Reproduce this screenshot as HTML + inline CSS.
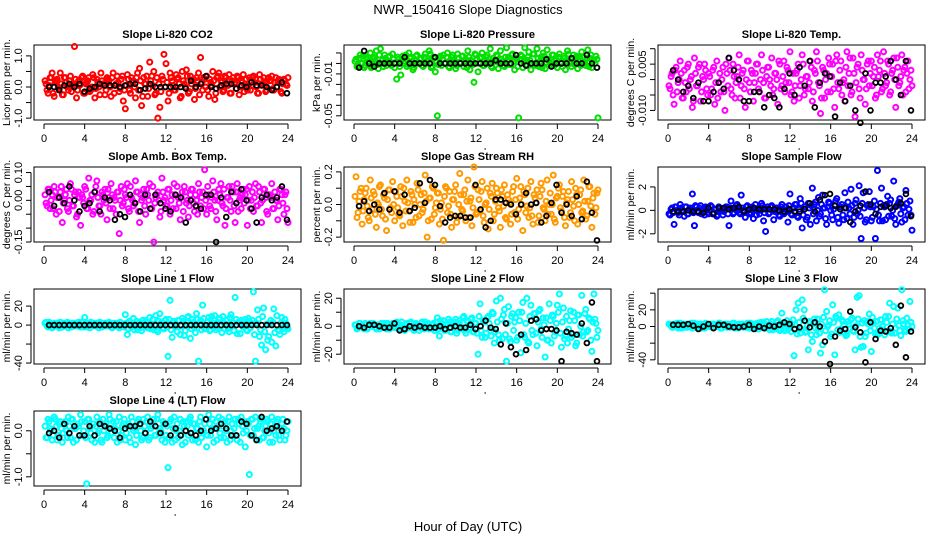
<!DOCTYPE html>
<html><head><meta charset="utf-8">
<style>
html,body{margin:0;padding:0;background:#fff;}
svg{display:block;font-family:"Liberation Sans",Arial,sans-serif;}
</style></head>
<body>
<svg id="chart" width="936" height="540" viewBox="0 0 936 540">
<text x="468" y="14" text-anchor="middle" font-size="13">NWR_150416  Slope Diagnostics</text>
<text x="468" y="531" text-anchor="middle" font-size="13">Hour of Day (UTC)</text>
</svg>
<script>
// ---- data (colored series: 120 samples each; core series: 120 samples; black series: 48 samples) ----
const co2Color=[0.1,-0.2,0.3,0.45,-0.3,0.2,0.0,0.45,-0.25,0.3,0.15,-0.1,0.35,0.05,1.3,-0.35,0.2,0.1,0.35,-0.2,
0.15,0.3,-0.1,0.4,-0.35,0.25,0.0,0.45,0.1,-0.25,0.3,0.2,-0.3,0.45,0.05,0.35,-0.15,0.25,-0.45,-0.7,
0.4,-0.1,0.3,0.2,-0.35,0.45,0.6,-0.6,0.3,0.1,-0.3,0.8,0.35,0.5,-0.2,-1.0,-0.65,0.35,1.05,0.75,
-0.45,0.45,0.2,-0.1,0.4,0.3,-0.35,0.5,0.1,0.55,-0.2,0.35,0.2,-0.4,0.3,0.45,0.95,-0.1,0.25,0.35,
-0.3,0.15,0.5,-0.4,0.3,0.45,0.2,-0.15,0.35,0.1,0.4,-0.2,0.3,0.15,0.35,-0.25,0.2,0.4,0.1,-0.1,
0.3,0.05,0.35,0.25,-0.2,0.4,0.1,0.3,-0.15,0.25,0.2,0.35,-0.1,0.3,0.15,0.2,-0.2,0.25,0.1,0.3];
const co2Core=[0.2,-0.1,0.05,0.3,-0.2,0.15,0.25,-0.05,0.1,-0.25,0.3,0.0,0.2,-0.15,0.1,0.25,-0.1,0.05,0.3,-0.2,
0.1,0.2,-0.15,0.0,0.3,-0.05,0.15,-0.25,0.2,0.05,-0.1,0.25,0.0,0.3,-0.2,0.1,0.15,-0.05,0.35,-0.1,
0.05,0.25,-0.2,0.15,0.0,0.3,-0.1,0.2,-0.3,0.1,0.35,-0.05,0.2,0.05,-0.25,0.3,0.1,-0.15,0.25,0.0,
0.15,-0.2,0.3,0.05,-0.1,0.25,0.1,-0.3,0.2,0.0,0.35,-0.15,0.1,0.25,-0.05,0.2,-0.25,0.15,0.3,0.0,
-0.1,0.25,0.05,0.2,-0.2,0.35,0.0,0.15,-0.1,0.3,0.05,-0.2,0.2,0.1,-0.05,0.3,0.0,0.15,-0.15,0.25,
0.05,-0.1,0.3,0.15,0.0,-0.2,0.25,0.1,0.05,-0.1,0.3,0.2,-0.05,0.15,0.0,0.25,-0.15,0.1,0.2,0.05];
const co2Black=[0.0,0.0,-0.1,0.05,0.1,0.0,0.1,-0.15,-0.05,0.0,0.1,0.05,0.05,0.05,0.0,0.05,0.1,0.1,-0.1,-0.05,0.1,0.0,0.0,0.0,0.0,0.0,0.0,-0.05,0.2,0.0,0.1,0.35,0.0,-0.05,0.05,0.1,0.1,-0.05,0.05,0.0,0.15,0.05,0.05,0.0,-0.1,0.0,0.15,-0.2];
const pressColorMilli=[4,-2,8,0,-4,6,2,10,-3,5,12,-5,14,3,8,-2,6,1,9,-4,
-15,4,-11,7,2,-3,10,6,-6,3,8,0,5,-3,9,2,12,-4,6,-8,
-50,5,-2,8,0,10,-4,6,3,-5,9,1,7,-3,4,12,-6,2,-18,8,
-8,5,10,-2,6,0,14,-4,3,8,-5,12,2,-3,15,6,-1,9,-6,4,
-52,8,-4,15,3,11,-6,9,0,14,-3,6,10,-5,13,2,-2,8,5,-4,
9,0,7,-6,12,2,-3,8,4,-5,6,11,0,-2,13,5,-4,3,7,-52];
const pressCoreMilli=[2,-3,5,0,7,-2,4,1,-4,6,3,-1,8,0,-3,5,2,7,-2,4,
1,6,-3,3,0,8,-1,5,2,-4,7,1,4,-2,6,0,3,9,-3,5,
2,-1,7,4,0,6,-3,3,8,1,-2,5,0,7,2,-4,6,3,-1,9,
4,0,6,-2,3,8,1,-3,5,2,7,0,4,-2,6,3,-1,8,2,5,
-3,4,7,1,-1,6,3,0,9,-2,5,2,-4,7,1,4,0,8,-2,3,
6,1,-3,5,2,9,0,4,-1,7,3,-2,6,1,5,-3,8,2,0,4];
const pressBlackMilli=[-4,12,0,-3,0,0,0,0,0,6,0,0,0,0,0,6,0,0,0,0,0,0,0,0,0,0,0,3,0,0,0,8,0,-2,0,0,0,4,-3,0,0,0,5,0,0,8,0,-4];
const tempColorMilli=[-3,2,-8,4,-1,6,-6,3,-4,5,0,-9,7,-2,4,-7,1,5,-3,2,
-5,3,-8,6,-1,-4,4,-10,2,7,-3,5,-6,1,8,-2,3,-9,6,-1,
3,-7,2,5,-4,8,-1,-6,4,0,7,-3,2,-8,5,-2,6,-1,3,9,
-4,-7,2,5,-2,8,-5,1,-3,6,-7,3,9,-1,-11,4,-6,2,7,-4,
5,-9,8,-3,6,-1,-7,9,2,-5,7,-12,4,-3,8,0,-8,5,-2,6,
1,-6,8,3,-4,9,-2,6,-5,2,7,-9,4,-1,8,3,-4,6,0,-2];
const tempCoreMilli=[-2,1,-5,3,-4,0,2,-6,-1,4,-3,1,-7,2,-2,5,-4,0,3,-5,
1,-3,4,-1,-6,2,0,-4,5,-2,3,-5,1,-1,4,-6,2,-3,0,6,
-4,2,-1,5,-3,0,3,-6,1,4,-2,-5,2,0,6,-3,1,-4,4,-1,
-5,2,-2,3,-6,0,5,-3,1,-1,4,-4,2,6,-2,-6,3,0,-4,5,
1,-3,6,-1,3,-5,0,4,-2,7,-4,2,-1,5,-6,3,0,-3,6,2,
-2,4,-5,1,6,-3,2,-1,5,-4,3,0,7,-2,1,-5,4,2,-3,3];
const tempBlackMilli=[3,0,-4,-2,-6,-1,-7,-7,-4,-1,-3,7,3,0,-7,-7,-4,-4,-9,-5,-6,-9,-3,2,-5,4,-2,6,-9,-1,2,1,-12,-1,-7,-2,-10,-14,2,-10,-1,-1,1,6,0,-5,6,-10];
const ambColorCenti=[-1,4,-3,2,5,-5,1,3,-8,0,4,-4,6,-2,2,-6,3,-9,1,5,
-3,8,0,-5,3,7,-2,-5,2,4,-7,1,6,-3,0,3,-12,5,-1,2,
6,-4,1,-2,7,3,-8,0,4,-5,2,6,-3,-15,1,3,-6,8,0,-2,
4,-5,2,6,-3,1,-7,3,5,-1,-6,2,4,-4,0,6,-2,3,11,-5,
2,-3,7,0,-7,4,6,-2,-9,1,5,-4,3,-8,6,0,-3,4,2,-9,
5,0,-4,6,-2,3,-8,4,1,-5,2,6,-3,0,-7,4,2,-5,3,-8];
const ambCoreCenti=[2,-2,4,0,-3,3,1,-4,5,-1,2,-3,0,4,-2,3,-5,1,2,-1,
4,-3,0,2,-4,5,1,-2,3,0,-1,4,-3,2,1,-5,3,0,-2,4,
1,-3,5,0,-1,3,-4,2,1,-2,4,0,-3,5,-1,2,0,-4,3,1,
-2,4,0,-3,2,5,-1,1,-4,3,0,-2,4,-1,2,-5,3,1,-3,0,
5,-2,1,3,-4,0,2,-1,4,-3,1,0,5,-2,3,-4,1,2,-1,4,
0,-3,3,1,-2,5,-1,0,4,-4,2,1,-3,3,0,-2,4,-1,2,-3];
const ambBlackCenti=[3,-2,1,-1,5,0,-4,-2,-1,3,-4,1,0,-7,-5,-6,2,-1,-4,2,-3,2,-1,-3,-4,2,1,-8,0,-2,-3,2,2,-15,1,-6,3,-1,4,0,-3,-8,1,2,0,1,5,-7];
const rhColorCenti=[17,-5,8,-12,3,10,-8,15,-3,6,-14,0,12,-7,4,-16,9,-2,14,-10,
5,-6,11,-13,2,15,-4,8,-11,0,13,-7,6,-3,18,-20,4,-9,10,-2,
7,-12,1,-22,11,-5,8,-14,3,12,-8,19,-3,6,-10,15,2,-13,23,-6,
9,-4,14,-11,1,-15,7,13,-6,10,-2,-14,5,12,-9,3,-12,8,-5,16,
-3,11,-16,6,-1,-8,14,-12,4,9,-7,13,-2,-10,15,0,-6,18,-11,5,
12,-4,8,-13,3,-8,14,-1,10,-12,6,-5,15,-9,2,11,-14,7,-2,9];
const rhCoreCenti=[5,-8,2,10,-4,7,-1,-10,4,8,-6,1,11,-3,6,-9,3,9,-5,0,
8,-2,-7,5,10,-4,1,-11,6,3,-8,9,0,-5,7,2,-10,4,11,-6,
1,7,-3,-9,5,10,-1,-6,3,8,-11,0,6,-4,9,2,-8,4,-2,11,
-5,3,8,-7,0,10,-3,5,-10,2,7,-4,9,-1,-8,6,1,-6,11,3,
-9,4,0,8,-5,10,-2,-7,6,1,-11,5,9,-3,2,-6,7,0,-9,4,
10,-2,5,-8,1,8,-5,3,-10,6,0,9,-4,2,-7,11,-1,4,-6,7];
const rhBlackCenti=[-1,2,-4,0,-3,7,-3,8,-5,6,-4,-2,13,1,15,12,-1,-11,-8,-7,-7,-8,-8,12,-3,-14,-10,3,3,1,0,-6,0,7,0,1,-11,-7,1,12,-5,0,-7,5,-9,14,-5,-22];
const sampleColor=[-0.4,0.2,-1.2,0.3,-0.2,0.5,0,-0.5,0.3,-0.3,0.2,1.4,-1.3,0.3,-0.2,0.4,0,-0.4,0.2,-0.3,
0.4,-0.3,0.1,-0.5,0.3,0,-0.4,0.2,0.3,-1.3,0.8,-0.3,0.2,0.5,-0.2,1.3,0,-0.6,0.4,-0.3,
0.2,-0.7,0.5,0,-0.3,0.6,-0.9,-1.8,0.3,-0.2,0.4,-0.8,0.2,0,-0.5,0.5,-0.3,0.3,-1.0,1.4,
-0.4,0.2,0.5,-0.6,1.0,-1.5,0.3,-0.8,0.6,-1.2,1.9,0.5,-0.9,1.1,-0.3,1.3,0.2,-1.2,0.7,0.0,
-0.8,0.4,1.0,-1.1,0.3,-0.4,1.5,-0.7,0.2,1.8,-1.2,0.6,-0.3,2.1,-2.4,1.5,-1.0,0.4,1.6,-0.9,
0.3,-2.4,3.4,-0.9,1.9,0.4,-0.8,1.2,0.6,-0.5,2.5,-1.2,0.5,1.0,-1.0,0.3,1.7,-0.4,0.8,-1.7];
const sampleCore=[-0.3,0.1,-0.2,0.3,0.0,-0.4,0.2,-0.1,0.3,-0.3,0.1,0.0,-0.2,0.4,-0.1,0.2,-0.3,0.1,0.3,-0.2,
0.0,0.3,-0.2,0.1,-0.4,0.2,0.0,-0.1,0.3,-0.3,0.2,0.1,-0.2,0.4,0.0,-0.3,0.2,-0.1,0.3,0.0,
-0.2,0.3,0.1,-0.4,0.2,0.0,0.4,-0.2,0.1,-0.3,0.3,0.0,-0.1,0.2,-0.4,0.3,0.1,-0.2,0.0,0.4,
-0.3,0.2,0.5,-0.5,0.1,0.6,-0.4,0.3,-0.6,0.2,0.4,-0.3,0.7,0.0,-0.5,0.5,0.2,-0.7,0.3,0.6,
-0.4,0.1,0.8,-0.6,0.3,0.5,-0.8,0.2,0.7,-0.3,0.4,-0.6,0.9,0.0,-0.5,0.6,0.2,-0.8,0.5,0.3,
-0.6,0.8,0.1,-0.4,0.6,-0.9,0.3,0.5,-0.5,0.9,0.0,-0.7,0.4,0.7,-0.3,0.2,-0.8,0.6,0.1,-0.4];
const sampleBlack=[-0.1,-0.1,-0.1,0,-0.1,-0.1,-0.2,0.2,-0.3,0.2,0.2,0.1,0.2,0.3,-0.1,0.1,0.2,0.1,0.1,0.1,0.1,0,-0.1,0.1,-0.1,-0.1,0.1,0.6,-0.1,0.9,1.3,1.4,0.4,0.1,0.2,-1.0,-0.1,0.4,1.6,0.5,-0.3,0.3,0.4,0.2,0.3,0.6,1.4,-0.5];
const line1Color=[3,-2,1,-3,2,0,-1,3,-2,1,2,-3,0,2,-1,1,3,-2,0,8,
-2,1,3,-1,0,2,-3,1,-1,2,0,3,-2,1,-1,2,-3,0,1,11,
-10,4,-2,7,0,-5,3,-6,2,5,-3,8,1,-5,10,-7,12,2,-4,6,
-33,26,-13,4,-2,5,-10,7,-11,3,9,-14,6,-3,12,-38,5,21,-4,3,
8,-5,2,10,-3,6,-1,9,-4,5,-7,11,2,29,-9,3,5,-2,6,-6,
4,2,35,-38,16,-12,-21,18,-26,-16,1,-18,17,-22,-5,-10,8,-7,2,-4];
const line1Core=[2,-1,3,0,-2,1,2,-3,0,2,-1,3,1,-2,0,2,-1,1,3,-2,
0,2,-3,1,2,-1,0,3,-2,1,-1,2,0,-3,2,1,-1,3,0,-2,
2,-4,3,1,-5,4,0,-3,5,-2,3,1,-4,6,0,-5,4,2,-3,5,
-2,6,-5,3,1,-7,5,-1,4,-6,8,0,-4,3,-8,6,1,-5,7,-3,
4,-6,9,0,-5,3,7,-8,2,5,-4,8,-1,-6,6,3,-9,4,0,-5,
7,-3,5,-10,2,6,-5,9,-7,1,-12,5,3,-8,10,-6,2,-4,6,-2];
const line1Black=[0,0,0,0,0,0,0,0,0,0,0,0,0,0,0,0,0,0,0,0,0,0,0,0,0,0,0,0,0,0,0,0,0,0,0,0,0,0,0,0,0,0,0,0,0,0,0,0];
const line2Color=[1,-1,2,0,-2,1,-1,2,0,1,-2,1,0,-1,2,-2,1,0,2,-1,
3,-2,1,0,-3,2,-1,3,-2,0,1,-3,2,-1,3,0,-2,1,2,-3,
6,-7,2,4,-3,1,3,-4,2,5,-3,4,-2,7,-5,3,-1,6,-4,2,
-20,16,-8,3,-5,7,-3,10,-12,18,-6,20,-9,12,-25,14,-11,9,3,-10,
10,-19,17,-8,20,-12,15,-6,9,-14,11,-2,6,-22,-10,16,-12,7,-4,15,
23,-15,13,-7,-12,4,-8,10,-14,8,-6,22,-4,12,-3,5,-18,23,2,-3];
const line2Core=[1,-2,2,0,-1,2,-2,1,0,2,-1,1,-2,2,0,-1,2,-2,1,0,
2,-1,0,3,-2,1,-1,2,0,-3,2,1,-1,3,-2,0,2,-1,1,-3,
3,-2,4,0,-3,2,5,-4,1,3,-5,2,0,6,-3,4,-2,5,-4,2,
-5,7,-3,4,-8,6,2,-7,9,-4,3,-10,5,8,-6,2,-9,7,-3,6,
-8,4,10,-6,2,-11,7,-3,9,-5,3,12,-8,1,6,-10,4,8,-7,2,
10,-5,3,-9,7,-2,11,-6,4,-12,8,0,-7,9,-4,6,-10,3,5,-8];
const line2Black=[0,-1,1,1,0,-1,-1,2,-3,-2,0,-1,0,-1,-1,-1,0,-2,-1,0,-1,-1,1,-2,0,4,-1,-2,-13,2,-15,-20,-6,-17,4,5,-3,-2,-2,-3,-25,-4,-5,-6,2,-12,17,-25];
const line3Color=[2,-1,3,0,-2,4,1,-1,3,0,2,-2,4,1,-1,3,0,-2,2,1,
3,-1,2,0,4,-2,1,3,-1,2,0,4,-2,1,3,0,-1,2,4,-2,
3,0,-2,4,1,-1,5,-2,2,-4,6,0,-3,7,-5,16,-2,3,-4,5,
2,-35,20,28,-8,32,20,-6,-28,5,-18,9,-10,-2,-32,-22,44,18,2,-12,
26,-34,10,14,-3,6,-8,-10,3,8,-5,-28,35,37,-25,-24,-12,6,15,-30,
5,-9,-10,-2,8,-4,12,-6,28,-8,24,-2,22,-5,44,3,-6,2,30,0];
const line3Core=[3,1,-1,2,4,0,-2,3,1,-1,2,4,0,-1,3,2,-2,1,4,0,
2,-1,3,1,0,4,-2,2,1,3,-1,0,4,2,-2,1,3,0,-1,2,
4,-2,3,1,-3,5,0,-2,6,-1,3,-4,2,5,-3,1,4,-5,7,0,
-6,8,2,-9,5,-3,10,-7,1,6,-10,4,-2,9,-8,3,11,-5,0,7,
-9,5,12,-4,-7,8,2,-11,6,-3,10,-6,1,9,-12,4,7,-8,3,-5,
11,-2,6,-9,8,0,-10,5,12,-6,3,-8,9,1,-11,7,-4,10,-3,5];
const line3Black=[2,2,2,3,1,-3,0,3,-2,2,2,0,-1,-1,0,2,-3,0,-2,1,0,2,5,3,-3,-1,7,-1,5,0,-18,-45,-12,-5,-3,18,-1,-7,-43,5,-15,-5,-6,-2,-22,25,-37,-6];
const line4Color=[-0.15,0.25,0.05,-0.2,0.3,0.1,-0.1,0.2,-0.25,0.15,0.0,0.3,-0.15,0.25,0.05,-0.2,0.1,0.35,-0.1,0.2,
-1.15,0.25,-0.05,0.15,-0.25,0.3,0.0,-0.2,0.25,0.1,-0.15,0.35,-0.05,0.2,0.05,-0.25,0.3,-0.1,0.15,-0.2,
0.1,-0.15,0.3,0.0,-0.3,0.2,0.15,-0.2,0.25,-0.05,0.3,-0.15,0.1,0.25,-0.1,0.35,0.05,-0.2,0.15,-0.1,
-0.8,0.2,-0.25,0.3,0.0,-0.15,0.25,-0.3,0.1,0.2,-0.1,0.3,-0.2,0.15,0.05,-0.25,0.3,-0.05,0.15,-0.35,
0.35,-0.1,0.25,0.05,-0.2,0.3,-0.15,0.1,0.2,-0.25,0.3,0.0,-0.1,0.25,-0.2,0.15,0.3,-0.05,-0.35,0.2,
-0.95,0.25,-0.1,0.3,0.05,-0.2,0.25,-0.15,0.1,0.2,-0.25,0.3,0.0,-0.1,0.25,-0.2,0.15,0.05,-0.1,0.2];
const line4Core=[0.1,-0.15,0.2,0.0,-0.1,0.25,-0.2,0.15,0.05,-0.05,0.2,-0.15,0.1,0.25,-0.25,0.05,0.15,-0.1,0.2,0.0,
-0.15,0.25,0.05,-0.2,0.15,0.1,-0.05,0.2,-0.25,0.0,0.15,-0.1,0.25,0.05,-0.15,0.2,0.0,-0.2,0.1,0.25,
-0.05,0.15,-0.25,0.2,0.05,-0.1,0.25,0.0,-0.15,0.1,0.2,-0.2,0.05,0.15,-0.1,0.25,-0.05,0.0,0.2,-0.25,
0.1,-0.15,0.25,0.05,-0.2,0.15,0.0,-0.1,0.2,-0.25,0.1,0.25,-0.05,0.15,-0.2,0.05,0.2,-0.15,0.0,0.25,
-0.1,0.15,0.05,-0.25,0.2,0.1,-0.05,0.25,-0.15,0.0,0.2,-0.2,0.15,0.05,-0.1,0.25,-0.25,0.1,0.2,0.0,
0.15,-0.1,0.25,0.05,-0.2,0.1,0.2,-0.15,0.0,0.25,-0.05,0.15,-0.25,0.1,0.2,-0.1,0.05,0.25,-0.2,0.0];
const line4Black=[-0.05,0.0,-0.15,0.15,-0.05,0.1,-0.1,-0.1,0.1,-0.1,0.15,0.1,0.05,0.0,-0.15,0.05,0.1,0.1,0.15,-0.05,0.2,0.1,-0.05,0.15,-0.1,0.05,-0.1,0.0,-0.05,-0.1,0.0,0.25,0.0,0.05,0.15,0.05,-0.1,-0.1,0.2,0.15,-0.1,-0.2,0.3,0.0,0.05,0.1,0.0,0.2];
const xTicks=[0,4,8,12,16,20,24];

const panels=[
 {name:'co2',title:'Slope Li-820 CO2',ylab:'Licor ppm per min.',col:0,row:0,color:'#ff0000',ymin:-1.06,ymax:1.35,ticks:[-1,-0.5,0,0.5,1],labels:['-1.0','','0.0','','1.0'],c:co2Color,k:co2Core,b:co2Black},
 {name:'pressure',title:'Slope Li-820 Pressure',ylab:'kPa per min.',col:1,row:0,color:'#00e000',ymin:-54,ymax:17.6,ticks:[-50,-40,-30,-20,-10,0,10],labels:['-0.05','','','','-0.01','',''],c:pressColorMilli,k:pressCoreMilli,b:pressBlackMilli},
 {name:'li820-temp',title:'Slope Li-820 Temp.',ylab:'degrees C per min.',col:2,row:0,color:'#ff00ff',ymin:-13.1,ymax:11.2,ticks:[-10,-5,0,5,10],labels:['-0.010','','','0.005',''],c:tempColorMilli,k:tempCoreMilli,b:tempBlackMilli},
 {name:'amb-box-temp',title:'Slope Amb. Box Temp.',ylab:'degrees C per min.',col:0,row:1,color:'#ff00ff',ymin:-15,ymax:12,ticks:[-15,-10,-5,0,5,10],labels:['-0.15','','','0.00','','0.10'],c:ambColorCenti,k:ambCoreCenti,b:ambBlackCenti},
 {name:'gas-stream-rh',title:'Slope Gas Stream RH',ylab:'percent per min.',col:1,row:1,color:'#ff9900',ymin:-23,ymax:23,ticks:[-20,-10,0,10,20],labels:['-0.2','','0.0','','0.2'],c:rhColorCenti,k:rhCoreCenti,b:rhBlackCenti},
 {name:'sample-flow',title:'Slope Sample Flow',ylab:'ml/min per min.',col:2,row:1,color:'#0000ff',ymin:-2.7,ymax:3.7,ticks:[-2,0,2],labels:['-2','0','2'],c:sampleColor,k:sampleCore,b:sampleBlack},
 {name:'line1-flow',title:'Slope Line 1 Flow',ylab:'ml/min per min.',col:0,row:2,color:'#00ffff',ymin:-41,ymax:38,ticks:[-40,-20,0,20],labels:['-40','','0','20'],c:line1Color,k:line1Core,b:line1Black},
 {name:'line2-flow',title:'Slope Line 2 Flow',ylab:'ml/min per min.',col:1,row:2,color:'#00ffff',ymin:-27,ymax:26.6,ticks:[-20,-10,0,10,20],labels:['-20','','0','','20'],c:line2Color,k:line2Core,b:line2Black},
 {name:'line3-flow',title:'Slope Line 3 Flow',ylab:'ml/min per min.',col:2,row:2,color:'#00ffff',ymin:-45,ymax:45,ticks:[-40,-20,0,20,40],labels:['-40','','0','20',''],c:line3Color,k:line3Core,b:line3Black},
 {name:'line4-flow',title:'Slope Line 4 (LT) Flow',ylab:'ml/min per min.',col:0,row:3,color:'#00ffff',ymin:-1.2,ymax:0.43,ticks:[-1,-0.5,0],labels:['-1.0','','0.0'],c:line4Color,k:line4Core,b:line4Black}
];

const NS='http://www.w3.org/2000/svg';
const svg=document.getElementById('chart');
const colLeft=[34,344,658], rowTop=[45,167,289,411], W=267, H=75;
function mk(tag,attrs,parent){const e=document.createElementNS(NS,tag);for(const k in attrs)e.setAttribute(k,attrs[k]);parent.appendChild(e);return e;}

panels.forEach(p=>{
  const L=colLeft[p.col], T=rowTop[p.row], B=T+H, R=L+W;
  const g=mk('g',{},svg);
  
  
  const xs=h=>L+10+h*(244/24);
  const ys=v=>B-(v-p.ymin)/(p.ymax-p.ymin)*H;
  const t=mk('text',{x:(L+R)/2,y:T-7,'text-anchor':'middle','font-size':11,'font-weight':'bold'},g);
  t.textContent=p.title;
  
  
  const xa=mk('g',{},g);
  
  
  mk('line',{x1:xs(0),x2:xs(24),y1:B+4,y2:B+4,stroke:'#000','stroke-width':1},xa);
  xTicks.forEach(h=>{
    mk('line',{x1:xs(h),x2:xs(h),y1:B+4,y2:B+9,stroke:'#000','stroke-width':1},xa);
    const tl=mk('text',{x:xs(h),y:B+22,'text-anchor':'middle','font-size':11},xa);
    tl.textContent=h;
    
    
  });
  mk('circle',{cx:xs(12.9),cy:B+29,r:0.7,fill:'#000'},xa);
  const ya=mk('g',{},g);
  
  
  mk('line',{x1:L-3,x2:L-3,y1:ys(p.ticks[0]),y2:ys(p.ticks[p.ticks.length-1]),stroke:'#000','stroke-width':1},ya);
  p.ticks.forEach((v,i)=>{
    const y=ys(v);
    mk('line',{x1:L-8,x2:L-3,y1:y,y2:y,stroke:'#000','stroke-width':1},ya);
    if(p.labels[i]){
      const tl=mk('text',{x:0,y:0,'text-anchor':'middle','font-size':11,transform:`translate(${L-12},${y}) rotate(-90)`},ya);
      tl.textContent=p.labels[i];
      
      
    }
  });
  const yl=mk('text',{x:0,y:0,'text-anchor':'middle','font-size':10.5,transform:`translate(${L-24},${(T+B)/2}) rotate(-90)`},g);
  yl.textContent=p.ylab;
  
  
  const box=mk('rect',{x:L,y:T,width:W,height:H,fill:'none',stroke:'#000','stroke-width':1},g);
  
  
  const cg=mk('g',{},g);
  
  
  p.c.forEach((v,i)=>{
    const h=0.2+i*(23.8/(p.c.length-1));
    const c=mk('circle',{cx:xs(h),cy:ys(v),r:2.5,fill:'none',stroke:p.color,'stroke-width':2},cg);
    
    
  });
  p.k.forEach((v,i)=>{
    const h=0.1+i*(23.8/(p.k.length-1));
    const c=mk('circle',{cx:xs(h),cy:ys(v),r:2.5,fill:'none',stroke:p.color,'stroke-width':2},cg);
    
    
  });
  const bg=mk('g',{},g);
  
  
  p.b.forEach((v,i)=>{
    const h=0.5+i*(23.4/(p.b.length-1));
    const c=mk('circle',{cx:xs(h),cy:ys(v),r:2.4,fill:'none',stroke:'#000','stroke-width':1.8},bg);
    
    
  });
});
</script>
</body></html>
